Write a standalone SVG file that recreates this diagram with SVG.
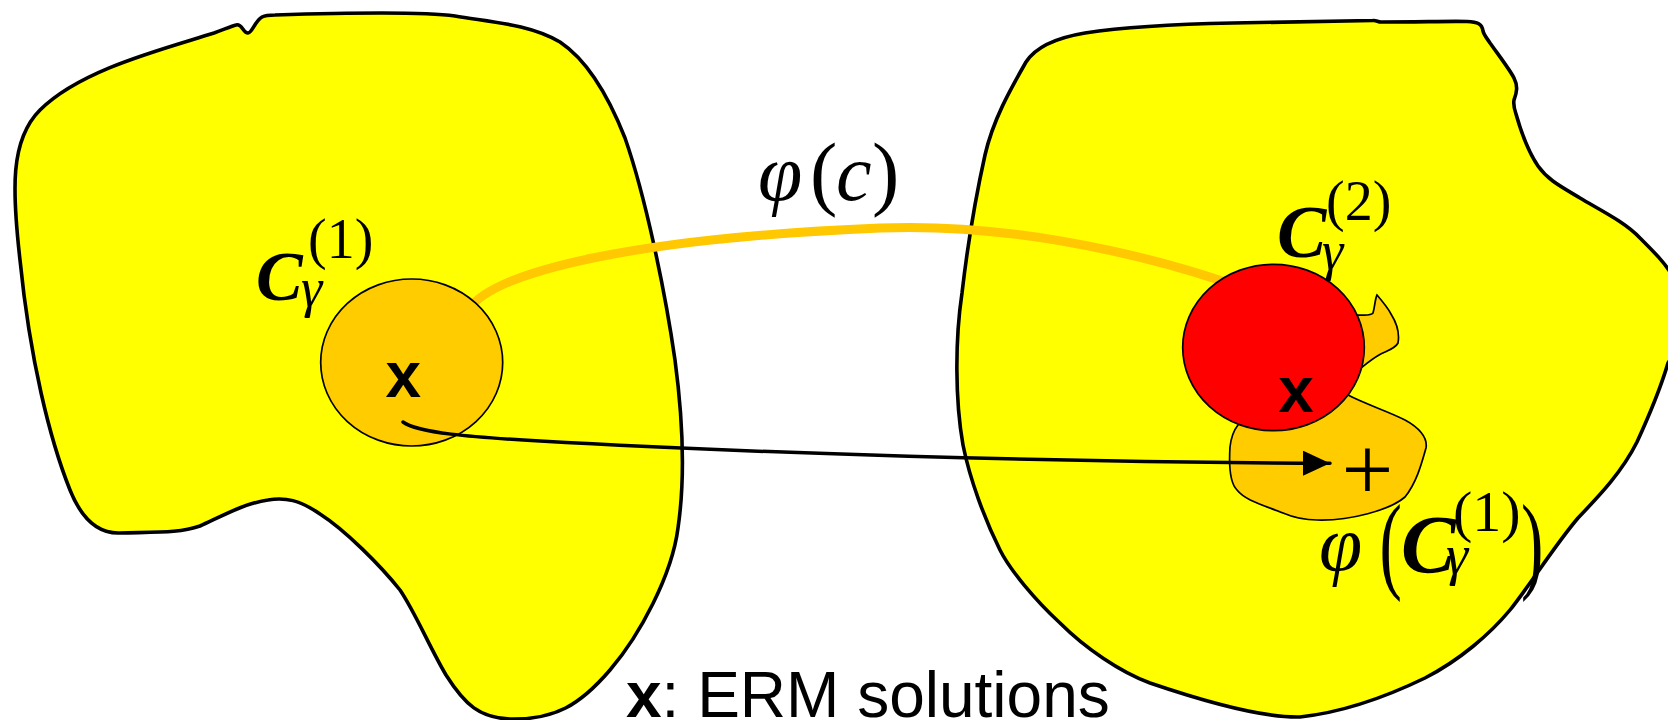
<svg xmlns="http://www.w3.org/2000/svg" width="1668" height="720" viewBox="0 0 1668 720">
<defs>
<style>
.blob{fill:#ffff00;stroke:#000;stroke-width:3.6;stroke-linejoin:round}
.thin{stroke:#000;stroke-width:1.7}
.sol{font-family:"Liberation Sans",Arial,sans-serif;font-size:64px;fill:#000}
.m{font-family:"Liberation Serif","Times New Roman",serif;fill:#000}
.it{font-style:italic}
.cal{font-style:italic;font-weight:bold}
</style>
<marker id="ah" markerUnits="userSpaceOnUse" markerWidth="28" markerHeight="26" refX="27" refY="12.5" orient="auto">
<path d="M0,0 L27,12.5 L0,25 Z" fill="#000"/>
</marker>
</defs>
<rect width="1668" height="720" fill="#fff"/>
<g id="space1">
<path class="blob" d="M 236 25 C 242 23, 243 33, 248 33 C 252 33, 255 21, 262 17 C 266 15, 268 15, 275 15 C 340 13, 420 11, 455 16 C 490 22, 530 24, 560 42 C 590 62, 610 100, 625 138 C 645 195, 665 290, 675 360 C 683 420, 685 480, 678 528 C 672 575, 640 635, 610 670 C 580 705, 555 720, 510 719 C 480 718, 465 705, 446 675 C 430 648, 415 612, 400 590 C 380 565, 345 530, 320 514 C 300 500, 285 497, 268 500 C 245 503, 220 517, 200 526 C 180 533, 160 532, 120 533 C 95 534, 80 515, 70 490 C 50 440, 30 360, 20 260 C 12 190, 10 140, 40 110 C 80 70, 160 50, 214 33 C 225 29, 232 26, 236 25 Z"/>
</g>
<g id="space2">
<path class="blob" d="M 1026 62 C 1035 48, 1055 38, 1085 33 C 1130 26, 1180 24, 1233 23 L 1373 20.5 C 1376 20, 1378 22, 1381 22 C 1420 22, 1450 21, 1467 21.5 C 1478 22, 1482 24, 1483 31 C 1484 35, 1486 37, 1490 43 C 1500 57, 1510 70, 1514 78 C 1518 86, 1517 92, 1514 100 C 1513 105, 1514 108, 1516 114 C 1520 128, 1527 150, 1538 166 C 1548 180, 1560 186, 1580 198 C 1600 210, 1625 222, 1640 238 C 1655 253, 1665 263, 1672 275 L 1685 300 L 1680 345 L 1668 363 C 1660 390, 1648 418, 1637 442 C 1622 472, 1600 495, 1578 518 C 1555 545, 1530 585, 1510 610 C 1490 634, 1460 660, 1425 678 C 1390 695, 1345 712, 1300 717 C 1260 718, 1200 700, 1150 683 C 1120 672, 1085 648, 1060 623 C 1035 600, 1010 570, 1000 550 C 985 520, 970 480, 963 445 C 955 400, 955 340, 962 293 C 967 250, 975 200, 985 155 C 993 120, 1010 90, 1026 62 Z"/>
</g>
<g id="image-region">
<path class="thin" fill="#ffcc00" d="M 1300 330 L 1358 315 C 1365 315, 1371 316, 1373 313 C 1375 306, 1375 299, 1377 295 C 1383 302, 1388 308, 1391 314 C 1396 322, 1400 332, 1398 343 C 1395 349, 1386 351, 1379 355 C 1372 359, 1366 364, 1361 368 L 1340 380 L 1348 395 C 1365 404, 1390 412, 1405 420 C 1418 427, 1428 437, 1426 448 C 1422 462, 1417 482, 1405 497 C 1390 510, 1350 521, 1317 520 C 1300 520, 1290 516, 1283 513 C 1260 504, 1245 500, 1237 490 C 1230 483, 1229 463, 1230 447 C 1231 438, 1234 430, 1238 425 L 1260 390 Z"/>
</g>
<g id="connectors">
<path d="M 468 310 C 495 270, 640 238, 880 228 C 1000 223, 1130 250, 1225 282" fill="none" stroke="#ffc800" stroke-width="9"/>
</g>
<g id="set1">
<ellipse class="thin" cx="411.7" cy="362.5" rx="91" ry="83.5" fill="#ffcc00"/>
</g>
<g id="set2">
<ellipse class="thin" cx="1273.5" cy="347.5" rx="90.8" ry="83.2" fill="#ff0000"/>
</g>
<g id="arrow">
<path d="M 403 422 C 418 433, 470 437, 540 441 C 750 453, 1050 462, 1330 463.3" fill="none" stroke="#000" stroke-width="3.5" stroke-linecap="round" marker-end="url(#ah)"/>
</g>
<g id="labels">
<text class="sol" x="403.3" y="396.5" text-anchor="middle" font-weight="bold">x</text>
<text class="sol" x="1296" y="411.5" text-anchor="middle" font-weight="bold">x</text>
<text class="m" x="1367.5" y="500" font-size="92" text-anchor="middle">+</text>
<text class="m"><tspan class="cal" x="256" y="300" font-size="70">C</tspan><tspan class="it" x="301" y="306" font-size="54">γ</tspan><tspan x="308" y="258" font-size="56">(1)</tspan></text>
<text class="m"><tspan class="cal" x="1277" y="257" font-size="74">C</tspan><tspan class="it" x="1322" y="269" font-size="54">γ</tspan><tspan x="1326" y="220" font-size="56">(2)</tspan></text>
<text class="m"><tspan class="it" x="758" y="200" font-size="80">φ</tspan><tspan x="810" y="200" font-size="82">(</tspan><tspan class="it" x="836" y="200" font-size="80">c</tspan><tspan x="872" y="200" font-size="82">)</tspan></text>
<text class="m"><tspan class="it" x="1319" y="570" font-size="78">φ</tspan><tspan class="cal" x="1401" y="572" font-size="82">C</tspan><tspan class="it" x="1446" y="574" font-size="56">γ</tspan><tspan x="1453" y="531" font-size="58">(1)</tspan></text>
<text class="m" font-size="84" transform="translate(1379.6,578.7) scale(0.8,1.28)">(</text>
<text class="m" font-size="84" transform="translate(1521,578.7) scale(0.8,1.28)">)</text>
<text class="sol" x="626" y="717"><tspan font-weight="bold">x</tspan>: ERM solutions</text>
</g>
</svg>
